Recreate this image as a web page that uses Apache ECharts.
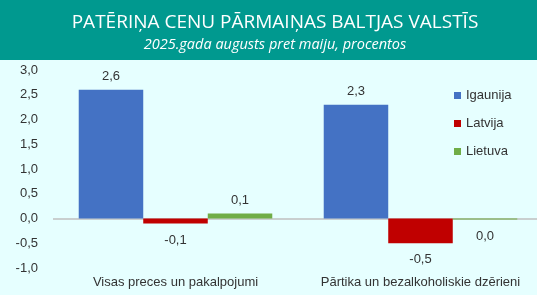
<!DOCTYPE html>
<html>
<head>
<meta charset="utf-8">
<title></title>
<script src="https://cdn.jsdelivr.net/npm/echarts@6/dist/echarts.min.js"></script>
<style>
	html, body { margin: 0; padding: 0; }
	#main { width: 537px; height: 295px; background: #e6ffff; }
</style>
</head>
<body>
<div id="main"></div>
<script>
	var categories = ['Visas preces un pakalpojumi', 'Pārtika un bezalkoholiskie dzērieni'];
	var igaunija = [2.6, 2.3];
	var latvija = [-0.1, -0.5];
	var lietuva = [0.1, -0.02];
	var yTicks = [-1, -0.5, 0, 0.5, 1, 1.5, 2, 2.5, 3];

	function fmt(v) {
		var s = v.toFixed(1);
		if (s == '-0.0') s = '0.0';
		return s.replace('.', ',');
	}

	var myChart = echarts.init(document.getElementById('main'));

	var barLabel = {
		show: true,
		color: '#333333',
		fontSize: 13,
		fontFamily: 'Liberation Sans',
		formatter: function (p) { return fmt(p.value); }
	};

	function makeSeries(name, data, color) {
		return {
			name: name,
			type: 'bar',
			data: data.map(function (v) {
				return {
					value: v,
					label: v < 0 ? { position: 'bottom', distance: 10 } : { position: 'top', distance: 7 }
				};
			}),
			itemStyle: { color: color },
			barGap: '0%',
			barCategoryGap: '21%',
			label: barLabel
		};
	}

	var series = [
		makeSeries('Igaunija', igaunija, '#4472c4'),
		makeSeries('Latvija', latvija, '#c00000'),
		makeSeries('Lietuva', lietuva, '#70ad47')
	];
	// nulles līnija
	series[0].markLine = {
		silent: true,
		symbol: 'none',
		label: { show: false },
		z: 1,
		lineStyle: { color: '#bfbfbf', width: 1.5, type: 'solid' },
		data: [{ yAxis: 0 }]
	};

	var option = {
		backgroundColor: '#e6ffff',
		graphic: [{
			type: 'rect',
			left: 0, top: 0,
			shape: { width: 537, height: 60 },
			style: { fill: '#00998f' },
			z: -1
		}],
		title: {
			text: 'PATĒRIŅA CENU PĀRMAIŅAS BALTJAS VALSTĪS',
			subtext: '2025.gada augusts pret maiju, procentos',
			left: 270,
			textAlign: 'center',
			top: 8,
			itemGap: 5,
			textStyle: { color: '#ffffff', fontSize: 19, fontWeight: 'normal', fontFamily: 'Open Sans' },
			subtextStyle: { color: '#ffffff', fontSize: 14.5, fontStyle: 'italic', fontFamily: 'Open Sans' }
		},
		legend: {
			orient: 'vertical',
			left: 449,
			top: 84,
			itemWidth: 7,
			itemHeight: 7,
			itemGap: 15,
			icon: 'rect',
			textStyle: { color: '#333333', fontSize: 13, fontFamily: 'Liberation Sans' }
		},
		grid: { left: 53, top: 70, width: 490, height: 198, containLabel: false, outerBoundsMode: 'none' },
		xAxis: {
			type: 'category',
			data: categories,
			axisLine: { show: false, onZero: false },
			axisTick: { show: false },
			axisLabel: {
				show: true,
				color: '#333333',
				fontSize: 13,
				fontFamily: 'Liberation Sans',
				margin: 8,
				interval: 0
			}
		},
		yAxis: {
			type: 'value',
			min: -1,
			max: 3,
			interval: 0.5,
			splitLine: { show: false },
			axisLine: { show: false },
			axisTick: { show: false },
			axisLabel: {
				color: '#333333',
				fontSize: 13,
				fontFamily: 'Liberation Sans',
				margin: 15,
				formatter: function (v) { return fmt(v); }
			}
		},
		series: series
	};
	myChart.setOption(option);
</script>
</body>
</html>
